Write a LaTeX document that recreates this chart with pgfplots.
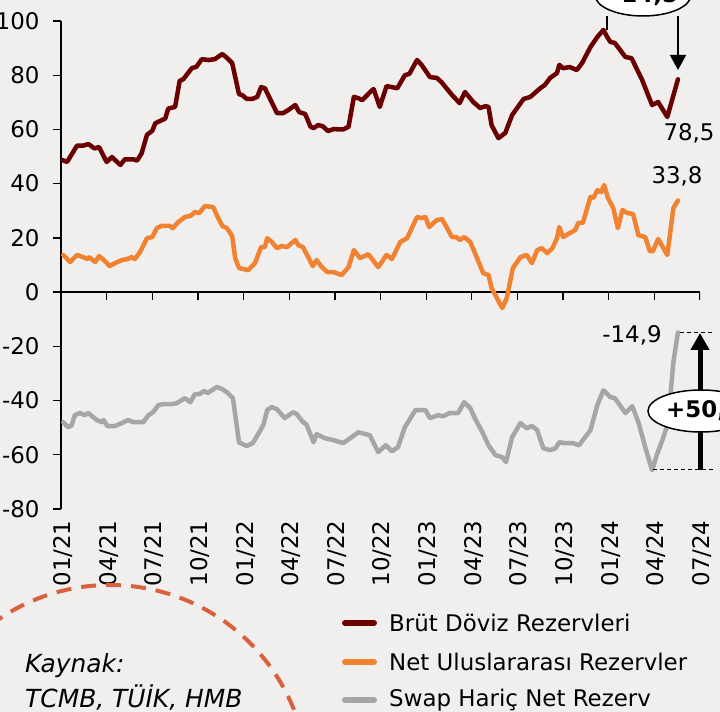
\documentclass[border=0pt]{standalone}
\usepackage{pgfplots}
\pgfplotsset{compat=1.18}
\usepackage{fontspec}
\setmainfont{DejaVu Sans}
\usetikzlibrary{arrows.meta}
\definecolor{bg}{HTML}{F1EFED}
\definecolor{brutc}{HTML}{6B0000}
\definecolor{netc}{HTML}{F08232}
\definecolor{swapc}{HTML}{A6A6A6}
\definecolor{circc}{HTML}{D9613F}
\newcommand{\fs}{\fontsize{23}{26}\selectfont}
\begin{document}
\begin{tikzpicture}[x=1bp,y=1bp]
\fill[bg] (0,0) rectangle (720,712);
\begin{scope}
\clip (0,0) rectangle (720,712);
\begin{axis}[
  at={(61bp,203bp)}, anchor=south west,
  width=639bp, height=488bp, scale only axis,
  xmin=0, xmax=42, ymin=-80, ymax=100,
  axis lines*=left,
  x axis line style={draw=none},
  y axis line style={black, line width=1.3bp},
  xtick={0,3,...,42},
  xticklabels={01/21,04/21,07/21,10/21,01/22,04/22,07/22,10/22,01/23,04/23,07/23,10/23,01/24,04/24,07/24},
  xticklabel style={rotate=90, anchor=east, font=\fs, yshift=-2bp},
  major x tick style={draw=none},
  ytick={-80,-60,-40,-20,0,20,40,60,80,100},
  yticklabels={-80,-60,-40,-20,0,20,40,60,80,100},
  yticklabel style={font=\fs, xshift=-10bp},
  tick align=outside,
  major y tick style={black, line width=1.3bp},
  major tick length=8bp,
  every axis plot/.append style={line width=4.5bp, line join=round, line cap=round},
]
\draw[black, line width=1.3bp] (axis cs:0,0) -- (axis cs:42,0);
\pgfplotsinvokeforeach{0,3,...,42}{\draw[black, line width=1.3bp] (axis cs:#1,0) -- ([yshift=-8bp]axis cs:#1,0);}
\addplot[brutc] coordinates {
(0.1,48.7) (0.4,48) (1.05,54) (1.45,54) (1.8,54.6) (2.2,53) (2.5,53.5) (3.0,48) (3.35,49.8) (3.9,46.9) (4.2,49) (4.75,49) (5.0,48.5) (5.3,51.2) (5.65,58) (6.0,59.5) (6.2,62.3) (6.85,64) (7.05,67.7) (7.5,68.3) (7.8,77.9) (8.05,78.6) (8.6,82.6) (8.9,83.1) (9.25,85.9) (9.7,85.6) (10.1,85.9) (10.6,87.8) (10.85,86.7) (11.25,84.5) (11.7,73) (11.9,72.7) (12.2,71.3) (12.6,71.3) (12.9,72) (13.15,75.6) (13.4,75.2) (14.2,66) (14.6,66) (14.95,67.2) (15.4,69) (15.65,66.4) (16.05,65.7) (16.4,61) (16.6,60.5) (16.9,61.6) (17.2,61.2) (17.55,59.4) (17.9,60.1) (18.55,60) (18.9,61) (19.25,72) (19.55,71.5) (19.8,70.8) (20.45,74.5) (20.55,74.9) (20.95,68.3) (21.4,76) (22.1,75.2) (22.6,80) (22.9,80.5) (23.4,85.6) (23.7,83.8) (24.25,79.3) (24.7,79) (25.0,77.5) (25.7,72.7) (26.2,69.7) (26.55,73.8) (27.1,70.1) (27.55,67.9) (27.9,68.6) (28.1,68.3) (28.3,61.6) (28.75,56.8) (29.2,58.7) (29.65,65.3) (30.4,71.2) (30.85,72) (31.5,75.2) (31.8,76.4) (32.15,79) (32.6,80.8) (32.75,83.8) (33.0,82.6) (33.45,83) (33.9,81.9) (34.25,84.5) (34.8,90.4) (35.25,94.1) (35.65,96.7) (35.9,94.1) (36.1,92.3) (36.4,91.9) (37.1,86.7) (37.5,86.3) (38.2,78.2) (38.85,69) (39.25,70.1) (39.85,64.6) (40.55,78.5)
};
\addplot[netc] coordinates {
(0.15,13.7) (0.6,11.1) (1.05,13.7) (1.45,12.9) (1.7,12.2) (1.85,12.9) (2.25,11.1) (2.5,13.3) (2.75,12.2) (3.2,9.6) (3.55,10.7) (4.0,11.8) (4.35,12.2) (4.65,12.9) (4.85,12.2) (5.2,14.8) (5.65,19.9) (6.0,20.3) (6.3,23.6) (6.6,24.4) (7.15,24.4) (7.35,23.6) (7.7,25.8) (8.15,27.7) (8.5,28.1) (8.8,29.5) (9.1,29.2) (9.45,31.7) (10.0,31.4) (10.3,27.7) (10.6,24.4) (10.9,23.6) (11.25,20.7) (11.45,12.5) (11.7,8.9) (12.3,8.1) (12.75,10.7) (13.15,16.6) (13.4,16.6) (13.55,19.9) (13.85,18.5) (14.2,16.2) (14.5,17) (14.85,16.6) (15.4,19.2) (15.6,17.3) (15.9,16.6) (16.25,12.9) (16.55,9.6) (16.8,11.8) (17.15,9.2) (17.5,7.4) (17.9,7.4) (18.45,6.3) (18.9,9.2) (19.25,15.5) (19.65,12.5) (20.2,14) (20.85,9.2) (21.4,13.7) (21.75,12.2) (22.3,18.5) (22.75,19.9) (23.4,27.7) (23.7,27.3) (23.95,27.7) (24.2,24) (24.7,26.6) (25.05,26.9) (25.7,20.3) (26.0,20.3) (26.2,19.2) (26.5,20.3) (26.9,18.5) (27.35,12.5) (27.75,7) (28.1,6.3) (28.3,1.5) (29.0,-5.9) (29.3,-2.2) (29.7,8.9) (30.2,12.9) (30.6,13.7) (30.95,10.7) (31.3,15.5) (31.6,16.2) (31.95,14.4) (32.3,16.2) (32.6,19.9) (32.75,24) (33.0,20.3) (33.45,21.8) (33.8,22.9) (34.0,25.5) (34.3,25.5) (34.8,35.1) (35.0,34.8) (35.25,37.6) (35.5,36.9) (35.7,39.5) (35.95,34.7) (36.3,31) (36.6,23.6) (36.9,30.3) (37.2,29.2) (37.6,28.8) (37.95,21) (38.4,20.3) (38.7,15.1) (38.9,15.1) (39.25,19.6) (39.85,13.7) (40.25,31) (40.55,33.8)
};
\addplot[swapc] coordinates {
(0.15,-48) (0.45,-49.8) (0.7,-49.2) (0.9,-45.4) (1.25,-44.6) (1.55,-45.4) (1.8,-44.6) (2.35,-47.2) (2.7,-48) (2.8,-47.2) (3.05,-49.4) (3.55,-49.4) (4.0,-48.3) (4.4,-47.2) (4.75,-48) (5.4,-48) (5.75,-45.4) (6.05,-44.3) (6.4,-41.7) (6.7,-41.3) (7.3,-41.3) (7.6,-41) (8.15,-39.1) (8.5,-40.6) (8.8,-37.6) (9.1,-37.6) (9.4,-36.5) (9.65,-37.2) (10.25,-35) (10.6,-35.8) (10.9,-36.9) (11.3,-39.1) (11.7,-55.4) (12.2,-56.8) (12.6,-55.7) (13.0,-52) (13.3,-49) (13.55,-43.5) (13.85,-42.4) (14.2,-43.2) (14.7,-46.5) (15.25,-44.3) (15.5,-45) (15.85,-47.6) (16.15,-49) (16.6,-55.4) (16.8,-52.4) (17.35,-53.9) (17.9,-54.6) (18.55,-55.7) (19.1,-53.5) (19.55,-51.7) (20.3,-52.8) (20.85,-59) (21.35,-56.5) (21.75,-58.7) (22.15,-57.2) (22.6,-49.8) (23.3,-43.5) (23.95,-43.5) (24.25,-46.5) (24.8,-45.4) (25.1,-45.8) (25.55,-44.6) (26.1,-44.6) (26.5,-40.6) (26.9,-42.8) (27.2,-46.5) (27.7,-51.7) (28.1,-56.5) (28.55,-60.1) (29.0,-60.9) (29.25,-62.7) (29.65,-53.5) (30.2,-48.3) (30.6,-50.2) (30.95,-49.4) (31.3,-50.9) (31.7,-57.6) (32.15,-58.3) (32.5,-57.6) (32.75,-55.4) (33.15,-55.7) (33.65,-55.7) (34.05,-56.5) (34.3,-54.6) (34.8,-50.9) (35.25,-41.7) (35.65,-36.2) (36.1,-38.7) (36.4,-39.1) (37.1,-44.6) (37.55,-42.1) (37.95,-48) (38.4,-57.2) (38.85,-65.7) (39.2,-59.4) (39.6,-53.5) (39.9,-48) (40.25,-25.8) (40.55,-14.9)
};
\end{axis}
% legend (manual)
\draw[brutc, line width=6bp, line cap=round] (345,89) -- (374,89);
\node[font=\fs, anchor=west, inner sep=0pt] at (389,89) {Brüt Döviz Rezervleri};
\draw[netc, line width=6bp, line cap=round] (345,50) -- (374,50);
\node[font=\fs, anchor=west, inner sep=0pt] at (389,50) {Net Uluslararası Rezervler};
\draw[swapc, line width=6bp, line cap=round] (345,12) -- (374,12);
\node[font=\fs, anchor=west, inner sep=0pt] at (389,12) {Swap Hariç Net Rezerv};
% annotations
\draw[black, line width=1.5bp] (607,696) -- (607,682);
\draw[black, line width=1.5bp, -{Triangle[width=16bp,length=15bp]}] (678,696) -- (678,642);
\draw[black, line width=1.5bp, fill=white] (643,717) ellipse [x radius=48, y radius=21];
\node[font=\fs\bfseries] at (645,716) {-14,5};
\node[font=\fs] at (689,579) {78,5};
\node[font=\fs] at (677,536) {33,8};
\node[font=\fs] at (632,377) {-14,9};
\draw[black, line width=1bp, dash pattern=on 4bp off 3bp] (680,379) -- (715,379);
\draw[black, line width=1bp, dash pattern=on 4bp off 3bp] (653,242) -- (715,242);
\draw[black, line width=5bp, -{Triangle[width=18bp,length=17bp]}] (700,242) -- (700,379);
\draw[black, line width=1.5bp, fill=white] (701,301) ellipse [x radius=53, y radius=21];
\node[font=\fs\bfseries, anchor=west, inner sep=0pt] at (666,301) {+50,4};
% circle and source
\draw[circc, line width=4bp, dash pattern=on 15bp off 10bp] (110,-71) circle [radius=198];
\node[font=\fontsize{25}{28}\selectfont\itshape, anchor=base west, inner sep=0pt] at (25,39) {Kaynak:};
\node[font=\fontsize{25}{28}\selectfont\itshape, anchor=base west, inner sep=0pt] at (25,4) {TCMB, TÜİK, HMB};
\end{scope}
\pgfresetboundingbox
\useasboundingbox (0,0) rectangle (720,712);
\end{tikzpicture}
\end{document}
